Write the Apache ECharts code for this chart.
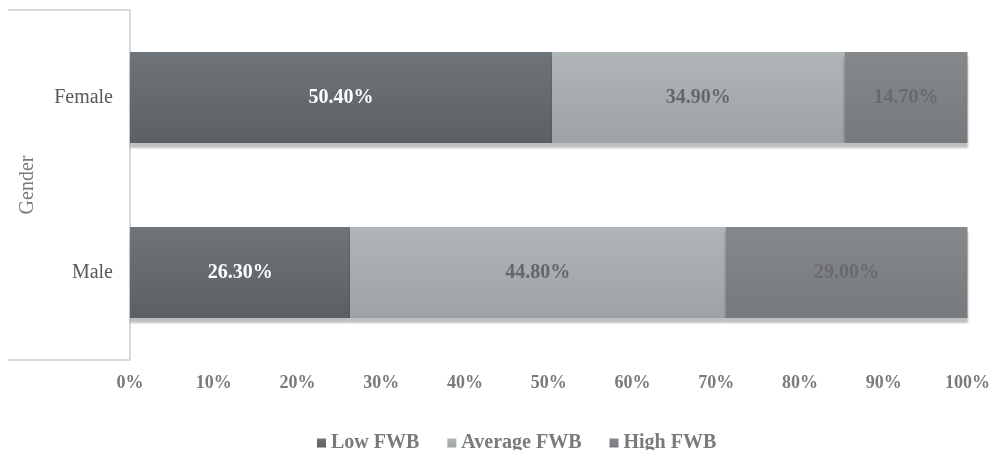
<!DOCTYPE html>
<html>
<head>
<meta charset="utf-8">
<script src="https://cdn.jsdelivr.net/npm/echarts@6/dist/echarts.min.js"></script>
<style>html,body{margin:0;padding:0;background:#fff}#c{width:993px;height:450px}</style>
</head>
<body>
<div id="c"></div>
<script>
const categories = ['Male', 'Female'];
const lowFWB = [26.3, 50.4];
const averageFWB = [44.8, 34.9];
const highFWB = [29.0, 14.7];
const xTicks = [0, 10, 20, 30, 40, 50, 60, 70, 80, 90, 100];

function grad(top, bottom) {
  return new echarts.graphic.LinearGradient(0, 0, 0, 1, [
    { offset: 0, color: top }, { offset: 1, color: bottom }
  ]);
}
const serif = '"Liberation Serif", "DejaVu Serif", serif';
function mk(name, data, c1, c2, labelColor) {
  return {
    name, type: 'bar', stack: 'total', data, barWidth: '52%',
    itemStyle: {
      color: grad(c1, c2),
      shadowColor: 'rgba(0,0,0,0.25)', shadowOffsetY: 5, shadowBlur: 2
    },
    label: {
      show: true, position: 'inside',
      formatter: p => p.value.toFixed(2) + '%',
      color: labelColor, fontFamily: serif, fontWeight: 'bold', fontSize: 20
    }
  };
}
const chart = echarts.init(document.getElementById('c'));
chart.setOption({
  animation: false,
  color: ['#64686c', '#a9adb0', '#7e8285'],
  grid: { left: 130, right: 25, top: 10, bottom: 90 },
  legend: {
    top: 428, left: 312, itemWidth: 9, itemHeight: 9, itemGap: 28,
    icon: 'rect',
    textStyle: { fontFamily: serif, fontWeight: 'bold', fontSize: 20, color: '#7a7a7a' },
    data: ['Low FWB', 'Average FWB', 'High FWB']
  },
  xAxis: {
    type: 'value', min: 0, max: 100, interval: 10,
    axisLine: { show: false }, axisTick: { show: false }, splitLine: { show: false },
    axisLabel: {
      formatter: v => xTicks.includes(v) ? v + '%' : '',
      fontFamily: serif, fontWeight: 'bold', fontSize: 18, color: '#7a7a7a', margin: 14
    }
  },
  yAxis: {
    type: 'category', data: categories,
    name: 'Gender', nameLocation: 'middle', nameGap: 92, nameRotate: 90,
    nameTextStyle: { fontFamily: serif, fontSize: 20, color: '#7a7a7a' },
    axisLine: { show: true, lineStyle: { color: '#d9d9d9', width: 2 } },
    axisTick: { show: false },
    axisLabel: { fontFamily: serif, fontSize: 20, color: '#595959', margin: 17 }
  },
  graphic: [
    { type: 'line', shape: { x1: 8, y1: 10, x2: 130, y2: 10 }, style: { stroke: '#d9d9d9', lineWidth: 2 } },
    { type: 'line', shape: { x1: 8, y1: 360, x2: 130, y2: 360 }, style: { stroke: '#d9d9d9', lineWidth: 2 } }
  ],
  series: [
    mk('Low FWB', lowFWB, '#6e7478', '#5c6066', '#ffffff'),
    mk('Average FWB', averageFWB, '#b0b5b8', '#9ea2a6', '#666666'),
    mk('High FWB', highFWB, '#85898c', '#767a7e', '#6a6a6a')
  ]
});
</script>
</body>
</html>
